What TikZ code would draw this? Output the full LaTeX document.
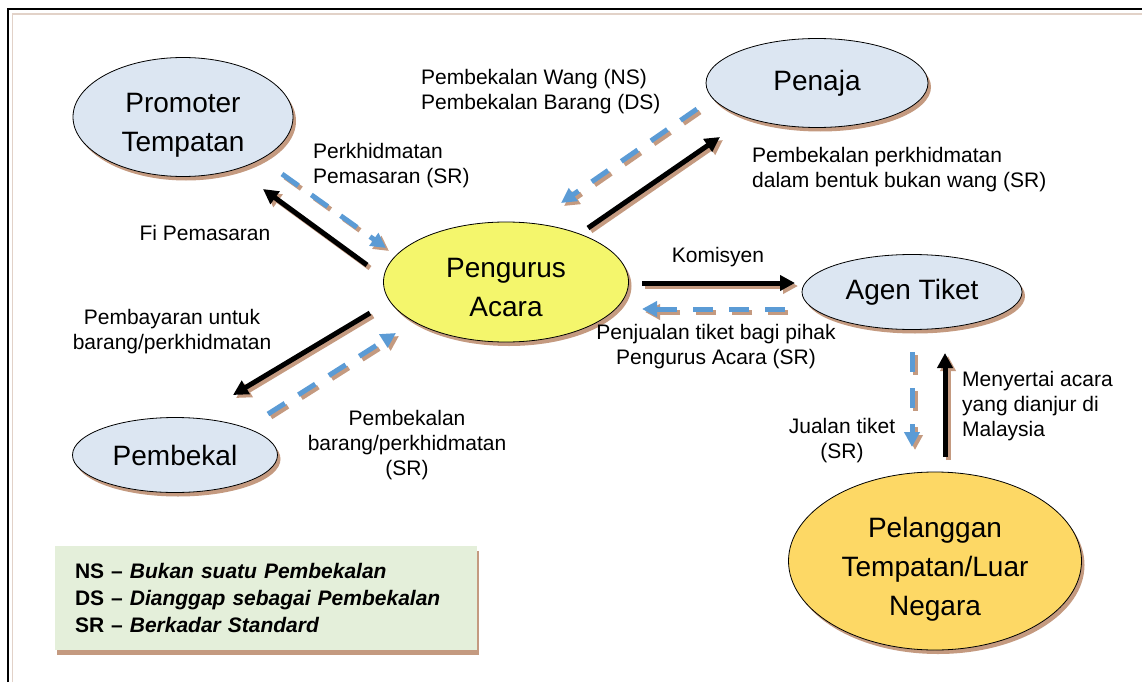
\documentclass[tikz,border=0pt]{standalone}
\usepackage{fontspec}
\setmainfont{Liberation Sans}
\usetikzlibrary{shapes.geometric, shadows, arrows.meta}
\definecolor{paleblue}{HTML}{DCE6F2}
\definecolor{lemon}{HTML}{F4F66C}
\definecolor{gold}{HTML}{FDD865}
\definecolor{shadowbrown}{HTML}{C49A80}
\definecolor{dashblue}{HTML}{5B9BD5}
\definecolor{keygreen}{HTML}{E4EFDA}
\definecolor{framebrown}{HTML}{E2D2C8}
\newcommand{\tallline}{\rule{0pt}{36pt}}
\newcommand{\deepline}{\rule[-6pt]{0pt}{6pt}}
\tikzset{
		>=Triangle,
		entity/.style={ellipse, draw=black, line width=0.8pt, inner sep=0pt, align=center,
			font=\fontsize{28}{39}\selectfont,
			drop shadow={shadow xshift=3pt, shadow yshift=-4pt, fill=shadowbrown, opacity=1}},
		lbl/.style={inner sep=0pt, font=\fontsize{21}{25}\selectfont},
		cashflow/.style={line width=5pt, draw=black, -{Triangle[length=15pt,width=15pt]}},
		supplyflow/.style={line width=5pt, draw=dashblue, dash pattern=on 20pt off 16pt, -{Triangle[length=15pt,width=15pt]}},
		shadowed/.style={draw=shadowbrown, transform canvas={shift={(3,3)}}}
	}

\begin{document}
\begin{tikzpicture}[x=1pt, y=-1pt] % one unit = one pixel of the picture, y runs downwards
		\useasboundingbox (0,0) rectangle (1142,682);
		% page frame
		\draw[framebrown, line width=1.5pt] (12.5,682) -- (12.5,14) -- (1142,14);
		\draw[black, line width=1.5pt] (8,682) -- (8,9) -- (1142,9);

		% parties
		\node[entity, fill=paleblue, minimum width=220pt, minimum height=119pt] (promoter) at (183,117) {\tallline Promoter\\Tempatan\deepline};
		\node[entity, fill=paleblue, minimum width=222pt, minimum height=89pt] (penaja) at (817,83) {Penaja};
		\node[entity, fill=lemon, minimum width=245pt, minimum height=120pt] (pengurus) at (506,282) {\tallline Pengurus\\Acara\deepline};
		\node[entity, fill=paleblue, minimum width=220pt, minimum height=75pt] (agen) at (912,292) {Agen Tiket};
		\node[entity, fill=paleblue, minimum width=205pt, minimum height=75pt] (pembekal) at (175,455) {Pembekal};
		\node[entity, fill=gold, minimum width=293pt, minimum height=178pt] (pelanggan) at (935,561) {\tallline Pelanggan\\Tempatan/Luar\\Negara\deepline};

		% arrow ends
		\coordinate (fiA) at (367,265); \coordinate (fiB) at (263,189);
		\coordinate (pmsA) at (282,174); \coordinate (pmsB) at (386,248);
		\coordinate (wangA) at (697,109); \coordinate (wangB) at (561,203);
		\coordinate (bknA) at (588,228); \coordinate (bknB) at (720,137);
		\coordinate (komA) at (642,283); \coordinate (komB) at (795,283);
		\coordinate (jualA) at (785,309); \coordinate (jualB) at (642,309);
		\coordinate (bayarA) at (370,313); \coordinate (bayarB) at (233,395);
		\coordinate (brgA) at (268,414); \coordinate (brgB) at (396,333);
		\coordinate (tiketA) at (912,352); \coordinate (tiketB) at (912,447);
		\coordinate (sertaA) at (945,457); \coordinate (sertaB) at (945,353);

		% flows of money (black) and of supplies (blue), each with its shadow
		\foreach \a/\b in {fiA/fiB, bknA/bknB, komA/komB, bayarA/bayarB, sertaA/sertaB}{
			\draw[cashflow, shadowed] (\a) -- (\b);
			\draw[cashflow] (\a) -- (\b);
		}
		\foreach \a/\b in {pmsA/pmsB, wangA/wangB, jualA/jualB, brgA/brgB, tiketA/tiketB}{
			\draw[supplyflow, shadowed] (\a) -- (\b);
			\draw[supplyflow] (\a) -- (\b);
		}

		% labels
		\node[lbl, anchor=west, align=left] (wang) at (421,92) {Pembekalan Wang (NS)\\Pembekalan Barang (DS)};
		\node[lbl, anchor=west, align=left] (pemasaran) at (313,166) {Perkhidmatan\\Pemasaran (SR)};
		\node[lbl] (fi) at (205,233) {Fi Pemasaran};
		\node[lbl, anchor=west, align=left] (bukanwang) at (752,170) {Pembekalan perkhidmatan\\dalam bentuk bukan wang (SR)};
		\node[lbl] (komisyen) at (718,257) {Komisyen};
		\node[lbl, align=center] (penjualan) at (716,347) {Penjualan tiket bagi pihak\\Pengurus Acara (SR)};
		\node[lbl, align=center] (pembayaran) at (172,332) {Pembayaran untuk\\barang/perkhidmatan};
		\node[lbl, align=center] (pembekalan) at (407,445) {Pembekalan\\barang/perkhidmatan\\(SR)};
		\node[lbl, align=center] (jualan) at (842,441) {Jualan tiket\\(SR)};
		\node[lbl, anchor=west, align=left] (menyertai) at (962,406) {Menyertai acara\\yang dianjur di\\Malaysia};

		% key
		\node[fill=keygreen, minimum width=422pt, minimum height=104pt, inner xsep=20pt, text width=382pt, align=left,
			font=\fontsize{21}{27}\selectfont\bfseries,
			drop shadow={shadow xshift=2pt, shadow yshift=-5pt, fill=shadowbrown, opacity=1}] (key) at (266,598)
			{NS -- \textit{Bukan suatu Pembekalan}\\DS -- \textit{Dianggap sebagai Pembekalan}\\SR -- \textit{Berkadar Standard}};
	\end{tikzpicture}
\end{document}
